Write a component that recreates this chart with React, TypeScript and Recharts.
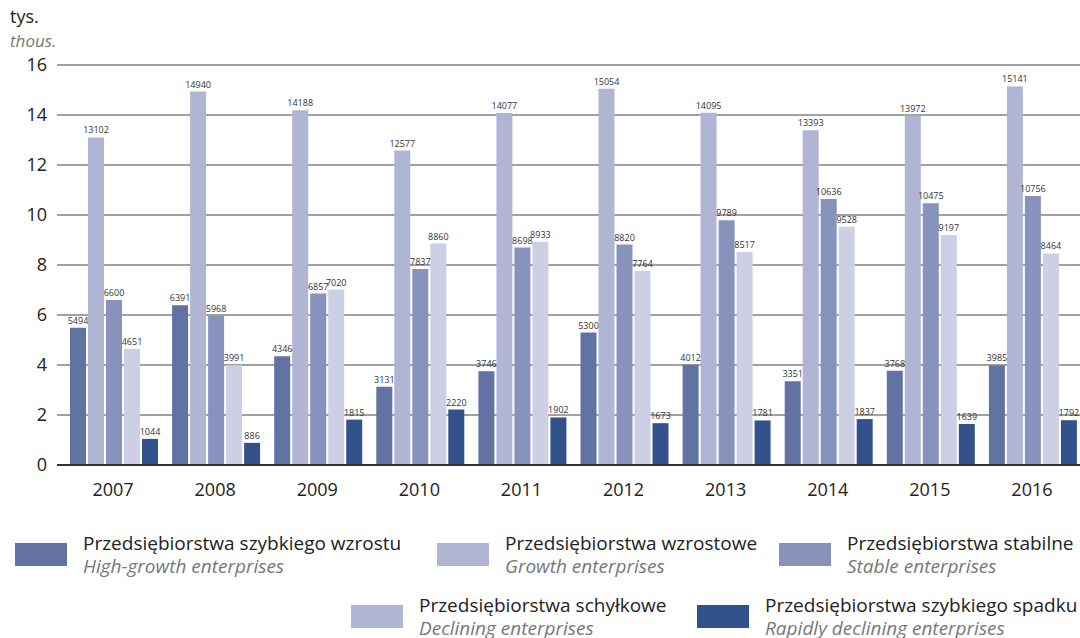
import { BarChart, Bar, XAxis, YAxis, CartesianGrid, LabelList } from 'recharts';

const years = ['2007', '2008', '2009', '2010', '2011', '2012', '2013', '2014', '2015', '2016'];
const highGrowth = [5494, 6391, 4346, 3131, 3746, 5300, 4012, 3351, 3768, 3985];
const growth = [13102, 14940, 14188, 12577, 14077, 15054, 14095, 13393, 13972, 15141];
const stable = [6600, 5968, 6857, 7837, 8698, 8820, 9789, 10636, 10475, 10756];
const declining = [4651, 3991, 7020, 8860, 8933, 7764, 8517, 9528, 9197, 8464];
const rapidDecline = [1044, 886, 1815, 2220, 1902, 1673, 1781, 1837, 1639, 1792];
const yTicks = [0, 2000, 4000, 6000, 8000, 10000, 12000, 14000, 16000];

const data = years.map((year, i) => ({
    year,
    highGrowth: highGrowth[i],
    growth: growth[i],
    stable: stable[i],
    declining: declining[i],
    rapidDecline: rapidDecline[i],
}));

const FONT = '"Open Sans", sans-serif';

const series = [
    { key: 'highGrowth', fill: '#6172a3' },
    { key: 'growth', fill: '#b0b5d3' },
    { key: 'stable', fill: '#8893bd' },
    { key: 'declining', fill: '#cdd0e4' },
    { key: 'rapidDecline', fill: '#33528c' },
];

const legendItems = [
    { pl: 'Przedsiębiorstwa szybkiego wzrostu', en: 'High-growth enterprises', color: '#6172a3', x: 15, y: 543 },
    { pl: 'Przedsiębiorstwa wzrostowe', en: 'Growth enterprises', color: '#b0b5d3', x: 437, y: 543 },
    { pl: 'Przedsiębiorstwa stabilne', en: 'Stable enterprises', color: '#8893bd', x: 779, y: 543 },
    { pl: 'Przedsiębiorstwa schyłkowe', en: 'Declining enterprises', color: '#b0b5d3', x: 351, y: 605 },
    { pl: 'Przedsiębiorstwa szybkiego spadku', en: 'Rapidly declining enterprises', color: '#33528c', x: 697, y: 605 },
];

export default function App() {
    return (
        <div style={{ position: 'absolute', left: 0, top: 0, width: 1080, height: 638, overflow: 'hidden', background: '#fff', fontFamily: FONT }}>
            <div style={{ position: 'absolute', left: 10, top: 6, fontSize: 18, color: '#222', lineHeight: '20px' }}>tys.</div>
            <div style={{ position: 'absolute', left: 10, top: 31, fontSize: 17, color: '#777', fontStyle: 'italic', lineHeight: '20px' }}>thous.</div>
            <div style={{ position: 'absolute', left: 0, top: 0 }}>
                <BarChart
                    width={1084}
                    height={520}
                    data={data}
                    margin={{ top: 65, right: 1, left: 0, bottom: 0 }}
                    barCategoryGap={8}
                    barGap={2}
                >
                    <CartesianGrid vertical={false} stroke="#444" strokeWidth={1} />
                    <XAxis
                        dataKey="year"
                        height={55}
                        padding={{ left: 5, right: 0 }}
                        tickLine={false}
                        axisLine={{ stroke: '#333', strokeWidth: 2 }}
                        tickMargin={12}
                        tick={{ fontSize: 18, fill: '#222', fontFamily: FONT }}
                    />
                    <YAxis
                        width={57}
                        domain={[0, 16000]}
                        ticks={yTicks}
                        tickFormatter={(v: number) => String(v / 1000)}
                        axisLine={false}
                        tickLine={false}
                        tickSize={10}
                        tickMargin={0}
                        tick={{ fontSize: 18, fill: '#222', fontFamily: FONT }}
                    />
                    {series.map((s) => (
                        <Bar key={s.key} dataKey={s.key} fill={s.fill} isAnimationActive={false}>
                            <LabelList dataKey={s.key} position="top" offset={4} style={{ fontSize: 9, fill: '#333', fontFamily: FONT }} />
                        </Bar>
                    ))}
                </BarChart>
            </div>
            {legendItems.map((item) => (
                <div key={item.pl} style={{ position: 'absolute', left: item.x, top: item.y }}>
                    <div style={{ position: 'absolute', left: 0, top: 0, width: 52, height: 23, background: item.color }} />
                    <div style={{ position: 'absolute', left: 68, top: -10, whiteSpace: 'nowrap', fontSize: 19, color: '#222', lineHeight: '20px' }}>{item.pl}</div>
                    <div style={{ position: 'absolute', left: 68, top: 13, whiteSpace: 'nowrap', fontSize: 19, color: '#777', fontStyle: 'italic', lineHeight: '20px' }}>{item.en}</div>
                </div>
            ))}
        </div>
    );
}
